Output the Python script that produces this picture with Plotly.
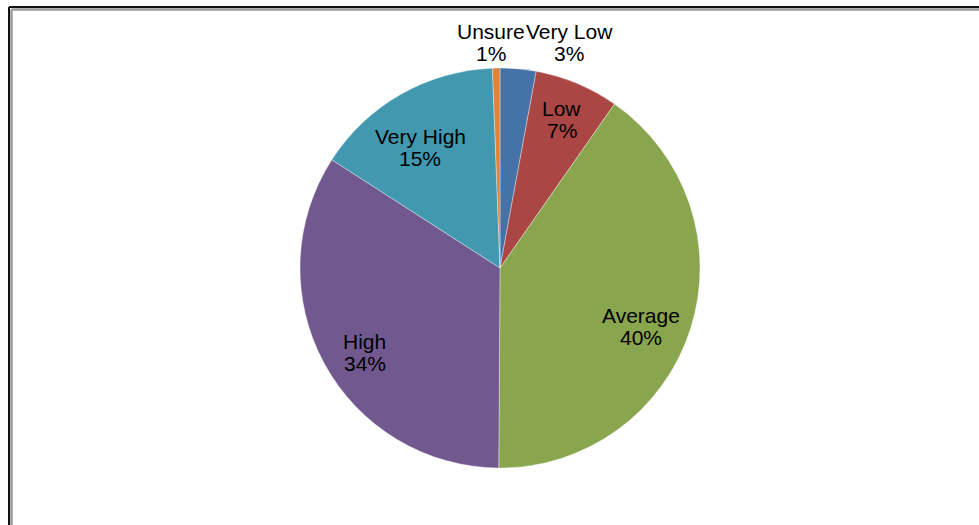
import math
import plotly.graph_objects as go

# ---- data ----
categories = ["Very Low", "Low", "Average", "High", "Very High", "Unsure"]
values = [2.9, 6.8, 40.4, 34.0, 15.3, 0.6]

# ---- style ----
colors = ["#4572A7", "#AA4643", "#89A54E", "#71588F", "#4198AF", "#DB843D"]
W, H = 979, 525
CX, CY, R = 500, 268, 200
# label placement: (radius fraction, angle offset in degrees from slice mid-angle)
label_style = {
    "Very Low": (1.174, 11.9),
    "Low": (0.80, 0.0),
    "Average": (0.764, 5.1),
    "High": (0.80, -3.9),
    "Very High": (0.717, -4.2),
    "Unsure": (1.123, -1.2),
}
FONT = "Liberation Sans, Arial, sans-serif"
FS = 21
LINE_GAP = 22
Y_ADJ = -1.0  # small vertical nudge of text

fig = go.Figure()
fig.add_trace(go.Pie(
    labels=categories,
    values=values,
    sort=False,
    direction="clockwise",
    rotation=0,
    marker=dict(colors=colors, line=dict(color="rgba(255,255,255,0.45)", width=0.8)),
    textinfo="none",
    hoverinfo="label+percent",
    showlegend=False,
    domain=dict(x=[(CX - R) / W, (CX + R) / W], y=[1 - (CY + R) / H, 1 - (CY - R) / H]),
))

total = sum(values)
cum = 0.0
annotations = []
for cat, v in zip(categories, values):
    mid = (cum + v / 2) / total * 360.0
    cum += v
    frac, off = label_style[cat]
    ang = math.radians(mid + off)
    px = CX + frac * R * math.sin(ang)
    py = CY - frac * R * math.cos(ang) + Y_ADJ
    pct = f"{round(v / total * 100):d}%"
    for txt, dy in ((cat, -LINE_GAP / 2), (pct, LINE_GAP / 2)):
        annotations.append(dict(
            x=px / W, y=1 - (py + dy) / H, xref="paper", yref="paper",
            text=txt, showarrow=False, xanchor="center", yanchor="middle",
            font=dict(family=FONT, size=FS, color="#000000"),
        ))

shapes = [
    # outer dark frame (left & top)
    dict(type="line", xref="paper", yref="paper", x0=9 / W, x1=9 / W, y0=0, y1=1 - 7 / H,
         line=dict(color="#111111", width=2)),
    dict(type="line", xref="paper", yref="paper", x0=9 / W, x1=1, y0=1 - 7 / H, y1=1 - 7 / H,
         line=dict(color="#111111", width=2)),
    # inner grey frame
    dict(type="line", xref="paper", yref="paper", x0=11.5 / W, x1=11.5 / W, y0=0, y1=1 - 9.5 / H,
         line=dict(color="#9a9a9a", width=2.5)),
    dict(type="line", xref="paper", yref="paper", x0=11.5 / W, x1=1, y0=1 - 9.5 / H, y1=1 - 9.5 / H,
         line=dict(color="#9a9a9a", width=2.5)),
]

fig.update_layout(
    width=W, height=H,
    margin=dict(l=0, r=0, t=0, b=0),
    paper_bgcolor="white", plot_bgcolor="white",
    annotations=annotations,
    shapes=shapes,
)

fig.write_html(
    "out.html",
    config={"displayModeBar": False},
    post_script="document.body.style.margin='0';document.body.style.overflow='hidden';",
)
